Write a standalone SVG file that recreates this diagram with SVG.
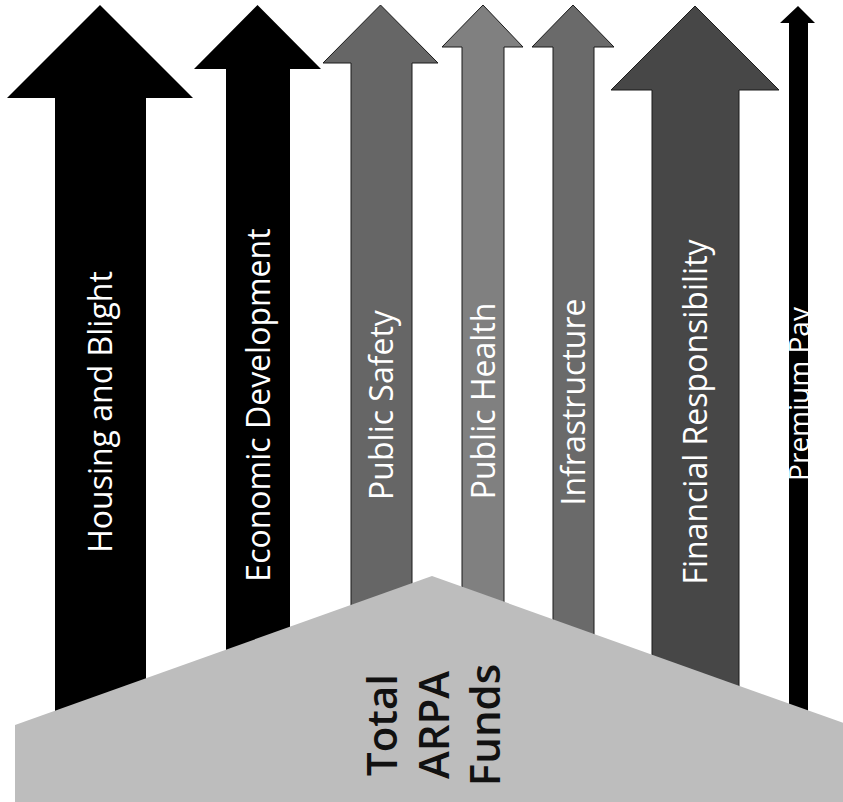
<svg xmlns="http://www.w3.org/2000/svg" width="843" height="802" viewBox="0 0 843 802">
<style>
  .lbl { font-family: "Open Sans", "Noto Sans", "Liberation Sans", sans-serif; font-size: 32px; fill: #ffffff; text-anchor: middle; }
  .gray { stroke: #1a1a1a; stroke-width: 1; }
  .big { font-family: "Open Sans", "Noto Sans", "Liberation Sans", sans-serif; font-size: 42px; font-weight: 600; fill: #111111; text-anchor: middle; }
</style>
<rect width="843" height="802" fill="#ffffff"/>
<g id="housing">
  <path d="M100,5 L193,98 L146,98 L146,802 L55,802 L55,98 L7,98 Z" fill="#000000"/>
  <text class="lbl" transform="translate(112,412) rotate(-90)">Housing and Blight</text>
</g>
<g id="economic">
  <path d="M257.5,5 L321,69 L290,69 L290,802 L226,802 L226,69 L194,69 Z" fill="#000000"/>
  <text class="lbl" transform="translate(270,405) rotate(-90)">Economic Development</text>
</g>
<g id="safety">
  <path class="gray" d="M380.5,5 L438,63 L412,63 L412,802 L351,802 L351,63 L323,63 Z" fill="#666666"/>
  <text class="lbl" transform="translate(393,405) rotate(-90)">Public Safety</text>
</g>
<g id="health">
  <path class="gray" d="M483,5 L523,47 L504,47 L504,802 L462,802 L462,47 L442,47 Z" fill="#808080"/>
  <text class="lbl" transform="translate(495,401) rotate(-90)">Public Health</text>
</g>
<g id="infrastructure">
  <path class="gray" d="M573,5 L614,47 L594,47 L594,802 L553,802 L553,47 L532,47 Z" fill="#6a6a6a"/>
  <text class="lbl" transform="translate(585,402) rotate(-90)">Infrastructure</text>
</g>
<g id="financial">
  <path class="gray" d="M695,6 L779,90 L739,90 L739,802 L652,802 L652,90 L611,90 Z" fill="#474747"/>
  <text class="lbl" transform="translate(707,412) rotate(-90)">Financial Responsibility</text>
</g>
<g id="premium">
  <path d="M798,6 L815,23 L808,23 L808,802 L789,802 L789,23 L780,23 Z" fill="#000000"/>
  <text class="lbl" style="font-size:28px" transform="translate(809,394) rotate(-90)">Premium Pay</text>
</g>
<g id="total">
  <path d="M432,576 L849,725 L849,802 L15,802 L15,725 Z" fill="#bdbdbd"/>
  <text class="big" transform="translate(397,725) rotate(-90)">Total</text>
  <text class="big" transform="translate(449,725) rotate(-90)">ARPA</text>
  <text class="big" transform="translate(500,725) rotate(-90)">Funds</text>
</g>
</svg>
